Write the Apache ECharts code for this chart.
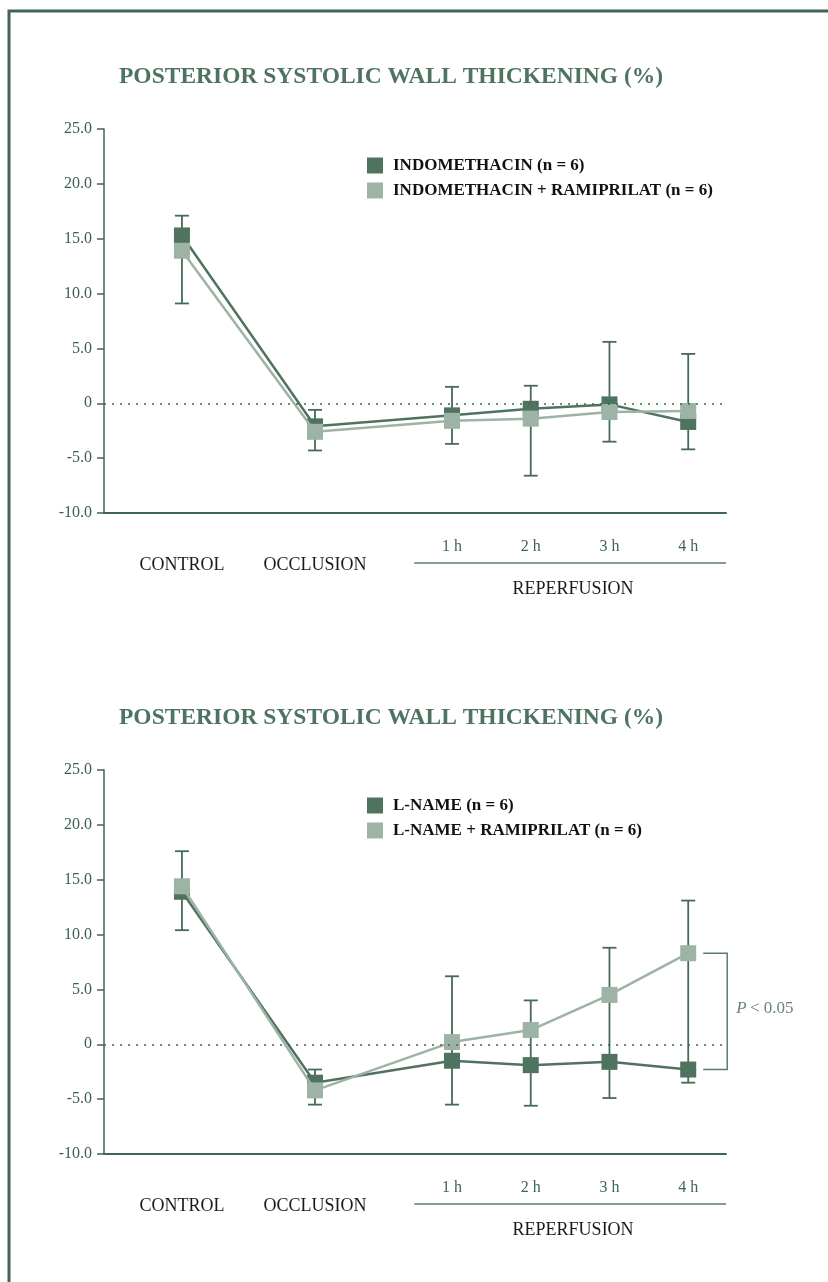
<!DOCTYPE html>
<html>
<head>
<meta charset="utf-8">
<script src="https://cdn.jsdelivr.net/npm/echarts@6/dist/echarts.min.js"></script>
<style>
  html, body { margin: 0; padding: 0; background: #fff; }
  #chart { width: 828px; height: 1282px; }
</style>
</head>
<body>
<div id="chart"></div>
<script>
// time points: position on the x value axis (reperfusion hours 1..4)
const timeSlots = [-2.43, -0.74, 1, 2, 3, 4];
const slotLabels = ["CONTROL", "OCCLUSION", "1 h", "2 h", "3 h", "4 h"];
const yTicks = [-10, -5, 0, 5, 10, 15, 20, 25];

// top panel
const indo = [15.3, -2.1, -1.1, -0.5, -0.1, -1.7];
const indoRami = [13.9, -2.6, -1.6, -1.4, -0.8, -0.7];
const indoErrLow = [9.1, -4.3, -3.7, -6.6, -3.5, -4.2];
const indoErrHigh = [17.1, -0.6, 1.5, 1.6, 5.6, 4.5];

// bottom panel
const lname = [13.9, -3.5, -1.5, -1.9, -1.6, -2.3];
const lnameRami = [14.4, -4.2, 0.2, 1.3, 4.5, 8.3];
const lnameErrLow = [10.4, -5.5, -5.5, -5.6, -4.9, -3.5];
const lnameErrHigh = [17.6, -2.3, 6.2, 4.0, 8.8, 13.1];

const TITLE = "POSTERIOR SYSTOLIC WALL THICKENING (%)";
const DARK = "#50735f";
const LIGHT = "#9db3a5";
const AXIS = "#3f6651";
const SERIF = "'Liberation Serif', 'DejaVu Serif', serif";
const X_MIN = -3.42, X_MAX = 4.48, REPERF_START = 0.52;

const chart = echarts.init(document.getElementById("chart"));

function pairs(vals) {
  return vals.map((v, i) => [timeSlots[i], v]);
}

function errData(lo, hi) {
  return lo.map((v, i) => [timeSlots[i], v, hi[i]]);
}

function errorBars(gi, lo, hi) {
  return {
    type: "custom",
    xAxisIndex: gi, yAxisIndex: gi,
    data: errData(lo, hi),
    z: 1,
    silent: true,
    renderItem(params, api) {
      const x = api.value(0);
      const a = api.coord([x, api.value(1)]);
      const b = api.coord([x, api.value(2)]);
      const w = 7;
      const st = { stroke: "#456a55", lineWidth: 1.8 };
      return {
        type: "group",
        children: [
          { type: "line", shape: { x1: a[0], y1: a[1], x2: b[0], y2: b[1] }, style: st },
          { type: "line", shape: { x1: a[0] - w, y1: a[1], x2: a[0] + w, y2: a[1] }, style: st },
          { type: "line", shape: { x1: b[0] - w, y1: b[1], x2: b[0] + w, y2: b[1] }, style: st }
        ]
      };
    }
  };
}

function lineSeries(gi, name, vals, color, z) {
  return {
    type: "line",
    name: name,
    xAxisIndex: gi, yAxisIndex: gi,
    data: pairs(vals),
    symbol: "rect",
    symbolSize: 16,
    itemStyle: { color: color },
    lineStyle: { color: color, width: 2.5 },
    z: z,
    silent: true,
    animation: false
  };
}

function zeroLine(gi) {
  return {
    type: "line",
    xAxisIndex: gi, yAxisIndex: gi,
    data: [],
    markLine: {
      silent: true,
      symbol: "none",
      label: { show: false },
      lineStyle: { color: AXIS, width: 1.5, type: [2, 6] },
      data: [{ yAxis: 0 }]
    }
  };
}

// x labels under each panel, placed from the axis scale
function slotText(gi) {
  return {
    type: "custom",
    xAxisIndex: gi, yAxisIndex: gi,
    data: timeSlots.map(x => [x, -10]),
    clip: false,
    silent: true,
    renderItem(params, api) {
      const p = api.coord([api.value(0), api.value(1)]);
      const hour = params.dataIndex >= 2;
      return {
        type: "text",
        x: p[0],
        y: p[1] + (hour ? 34 : 52),
        style: {
          text: slotLabels[params.dataIndex],
          align: "center",
          verticalAlign: "middle",
          fill: hour ? "#3f6651" : "#1a1a1a",
          font: (hour ? "16px " : "18px ") + SERIF
        }
      };
    }
  };
}

function reperfusion(gi) {
  return {
    type: "custom",
    xAxisIndex: gi, yAxisIndex: gi,
    data: [[REPERF_START, X_MAX, -10]],
    clip: false,
    silent: true,
    renderItem(params, api) {
      const a = api.coord([api.value(0), api.value(2)]);
      const b = api.coord([api.value(1), api.value(2)]);
      return {
        type: "group",
        children: [
          { type: "line", shape: { x1: a[0], y1: a[1] + 50, x2: b[0], y2: b[1] + 50 },
            style: { stroke: "#5b7d6a", lineWidth: 1.5 } },
          { type: "text", x: (a[0] + b[0]) / 2 + 3, y: a[1] + 76,
            style: { text: "REPERFUSION", align: "center", verticalAlign: "middle",
                     fill: "#1a1a1a", font: "18px " + SERIF } }
        ]
      };
    }
  };
}

function bracket(gi, x, hi, lo) {
  return {
    type: "custom",
    xAxisIndex: gi, yAxisIndex: gi,
    data: [[x, hi, lo]],
    clip: false,
    silent: true,
    renderItem(params, api) {
      const a = api.coord([api.value(0), api.value(1)]);
      const b = api.coord([api.value(0), api.value(2)]);
      const x0 = a[0] + 15, x1 = a[0] + 39;
      return {
        type: "group",
        children: [
          { type: "polyline",
            shape: { points: [[x0, a[1]], [x1, a[1]], [x1, b[1]], [x0, b[1]]] },
            style: { stroke: "#5b7d6a", lineWidth: 1.5, fill: null } },
          { type: "text", x: x1 + 9, y: (a[1] + b[1]) / 2 - 3,
            style: {
              text: "{i|P} {n|< 0.05}",
              verticalAlign: "middle",
              rich: {
                i: { fontStyle: "italic", fontSize: 17, fontFamily: SERIF, fill: "#6a8676" },
                n: { fontSize: 17, fontFamily: SERIF, fill: "#6a8676" }
              }
            } }
        ]
      };
    }
  };
}

const tops = [129, 770];

const xAxes = tops.map((t, gi) => ({
  type: "value",
  gridIndex: gi,
  min: X_MIN, max: X_MAX,
  axisLine: { show: true, onZero: false, lineStyle: { color: AXIS, width: 2 } },
  axisTick: { show: false },
  axisLabel: { show: false },
  splitLine: { show: false }
}));

const yAxes = tops.map((t, gi) => ({
  type: "value",
  gridIndex: gi,
  min: yTicks[0], max: yTicks[yTicks.length - 1], interval: 5,
  axisLine: { show: true, onZero: false, lineStyle: { color: AXIS, width: 1.5 } },
  axisTick: { show: true, length: 7, lineStyle: { color: AXIS, width: 1.5 } },
  axisLabel: {
    color: "#3d5f4b", fontSize: 16, fontFamily: SERIF, margin: 12,
    formatter: v => (v === 0 ? "0" : v.toFixed(1))
  },
  splitLine: { show: false }
}));

const legendStyle = {
  orient: "vertical",
  left: 367,
  padding: 0,
  icon: "rect",
  itemWidth: 16, itemHeight: 16, itemGap: 8,
  selectedMode: false,
  textStyle: { color: "#111", fontWeight: "bold", fontSize: 17, fontFamily: SERIF, padding: [0, 0, 0, 5] }
};

const titleStyle = { color: "#4e7360", fontSize: 23.5, fontWeight: "bold", fontFamily: SERIF };

chart.setOption({
  animation: false,
  graphic: [{
    type: "polyline",
    shape: { points: [[9, 1282], [9, 11], [828, 11]] },
    style: { stroke: AXIS, lineWidth: 3, fill: null }
  }],
  title: [
    { text: TITLE, left: 119, top: 65, padding: 0, textStyle: titleStyle },
    { text: TITLE, left: 119, top: 706, padding: 0, textStyle: titleStyle }
  ],
  legend: [
    Object.assign({ top: 157, data: ["INDOMETHACIN (n = 6)", "INDOMETHACIN + RAMIPRILAT (n = 6)"] }, legendStyle),
    Object.assign({ top: 797, data: ["L-NAME (n = 6)", "L-NAME + RAMIPRILAT (n = 6)"] }, legendStyle)
  ],
  grid: tops.map(t => ({ left: 104, right: 102, top: t, height: 384 })),
  xAxis: xAxes,
  yAxis: yAxes,
  series: [
    zeroLine(0),
    errorBars(0, indoErrLow, indoErrHigh),
    lineSeries(0, "INDOMETHACIN (n = 6)", indo, DARK, 3),
    lineSeries(0, "INDOMETHACIN + RAMIPRILAT (n = 6)", indoRami, LIGHT, 4),
    slotText(0),
    reperfusion(0),

    zeroLine(1),
    errorBars(1, lnameErrLow, lnameErrHigh),
    lineSeries(1, "L-NAME (n = 6)", lname, DARK, 3),
    lineSeries(1, "L-NAME + RAMIPRILAT (n = 6)", lnameRami, LIGHT, 4),
    slotText(1),
    reperfusion(1),
    bracket(1, timeSlots[5], lnameRami[5], lname[5])
  ]
});
</script>
</body>
</html>
